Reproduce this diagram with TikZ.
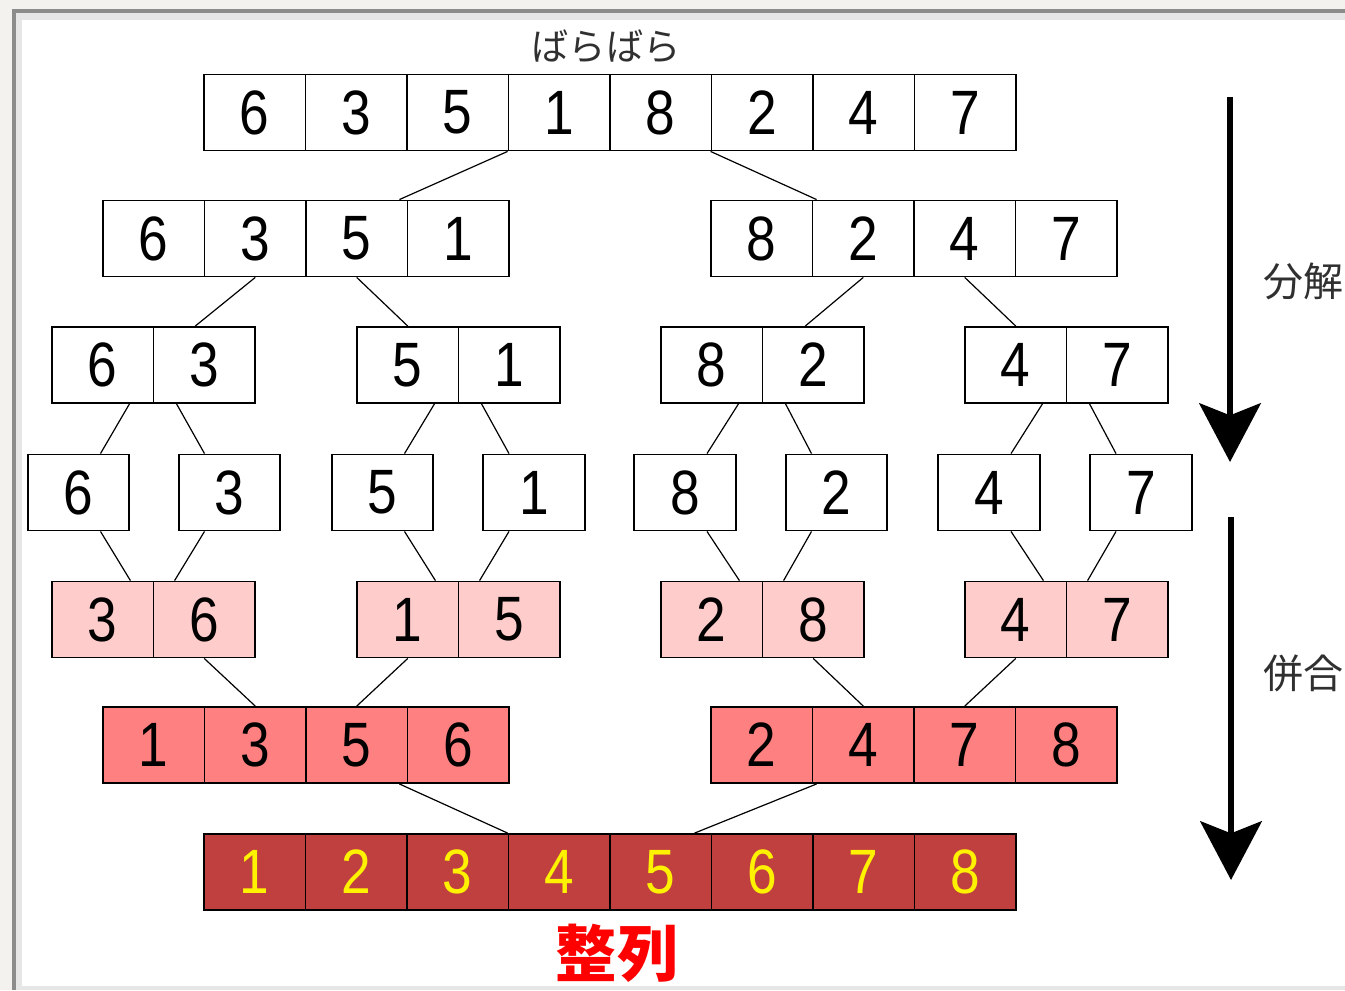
\documentclass[tikz,border=0pt]{standalone}
\usepackage{fontspec}
\usetikzlibrary{arrows.meta, calc}
\setmainfont{Liberation Sans}
\newfontfamily\digitfont[FakeStretch=0.85]{Liberation Sans}
\newfontfamily\jpfont{Noto Sans CJK JP}

\definecolor{framebg}{HTML}{F3F2EF}
\definecolor{frameline}{HTML}{8C8C8C}
\definecolor{frameband}{HTML}{E6E6E6}
\definecolor{cellpink}{HTML}{FFCCCC}
\definecolor{cellsalmon}{HTML}{FF8080}
\definecolor{celldark}{HTML}{C04040}
\definecolor{kanagray}{HTML}{303030}

\tikzset{
  cell/.style={draw, line width=1.4pt, fill=white, minimum width=76.1pt, minimum height=57pt, inner sep=0pt,
    font=\digitfont\fontsize{47}{47}\selectfont},
  pinkcell/.style={cell, fill=cellpink},
  salmoncell/.style={cell, fill=cellsalmon},
  darkcell/.style={cell, fill=celldark, text=yellow},
  link/.style={line width=0.9pt},
  bigarrow/.style={line width=5pt, -{Stealth[length=44pt, width=46pt, inset=9pt]}},
  jplabel/.style={font=\jpfont\fontsize{30}{30}\selectfont, text=kanagray, inner sep=0pt}
}

\begin{document}
\begin{tikzpicture}[x=0.75pt, y=-0.75pt]
        \useasboundingbox (0,0) rectangle (1345,990);
        % Frame
        \fill[framebg] (0,0) rectangle (1345,990);
        \fill[frameline] (12,9) rectangle (1345,990);
        \fill[frameband] (15.5,12.5) rectangle (1345,990);
        \fill[white] (22,19.5) rectangle (1345,985.5);

        % Draw nodes
        \node[cell] (a1) at (254.75,112.5) {6};
        \node[cell] (a2) at (356.25,112.5) {3};
        \node[cell] (a3) at (457.75,112.5) {5};
        \node[cell] (a4) at (559.25,112.5) {1};
        \node[cell] (a5) at (660.75,112.5) {8};
        \node[cell] (a6) at (762.25,112.5) {2};
        \node[cell] (a7) at (863.75,112.5) {4};
        \node[cell] (a8) at (965.25,112.5) {7};

        \node[cell] (b1) at (153.75,238.5) {6};
        \node[cell] (b2) at (255.25,238.5) {3};
        \node[cell] (b3) at (356.75,238.5) {5};
        \node[cell] (b4) at (458.25,238.5) {1};
        \node[cell] (b5) at (761.75,238.5) {8};
        \node[cell] (b6) at (863.25,238.5) {2};
        \node[cell] (b7) at (964.75,238.5) {4};
        \node[cell] (b8) at (1066.25,238.5) {7};

        \node[cell] (c1) at (102.75,365) {6};
        \node[cell] (c2) at (204.25,365) {3};
        \node[cell] (c3) at (407.75,365) {5};
        \node[cell] (c4) at (509.25,365) {1};
        \node[cell] (c5) at (711.75,365) {8};
        \node[cell] (c6) at (813.25,365) {2};
        \node[cell] (c7) at (1015.75,365) {4};
        \node[cell] (c8) at (1117.25,365) {7};

        \node[cell] (d1) at (78.5,492.5) {6};
        \node[cell] (d2) at (229.5,492.5) {3};
        \node[cell] (d3) at (382.5,492.5) {5};
        \node[cell] (d4) at (534,492.5) {1};
        \node[cell] (d5) at (685,492.5) {8};
        \node[cell] (d6) at (836.5,492.5) {2};
        \node[cell] (d7) at (989,492.5) {4};
        \node[cell] (d8) at (1141,492.5) {7};

        \node[pinkcell] (e1) at (102.75,619.5) {3};
        \node[pinkcell] (e2) at (204.25,619.5) {6};
        \node[pinkcell] (e3) at (407.75,619.5) {1};
        \node[pinkcell] (e4) at (509.25,619.5) {5};
        \node[pinkcell] (e5) at (711.75,619.5) {2};
        \node[pinkcell] (e6) at (813.25,619.5) {8};
        \node[pinkcell] (e7) at (1015.75,619.5) {4};
        \node[pinkcell] (e8) at (1117.25,619.5) {7};

        \node[salmoncell] (f1) at (153.75,745) {1};
        \node[salmoncell] (f2) at (255.25,745) {3};
        \node[salmoncell] (f3) at (356.75,745) {5};
        \node[salmoncell] (f4) at (458.25,745) {6};
        \node[salmoncell] (f5) at (761.75,745) {2};
        \node[salmoncell] (f6) at (863.25,745) {4};
        \node[salmoncell] (f7) at (964.75,745) {7};
        \node[salmoncell] (f8) at (1066.25,745) {8};

        \node[darkcell] (g1) at (254.75,872) {1};
        \node[darkcell] (g2) at (356.25,872) {2};
        \node[darkcell] (g3) at (457.75,872) {3};
        \node[darkcell] (g4) at (559.25,872) {4};
        \node[darkcell] (g5) at (660.75,872) {5};
        \node[darkcell] (g6) at (762.25,872) {6};
        \node[darkcell] (g7) at (863.75,872) {7};
        \node[darkcell] (g8) at (965.25,872) {8};

        % Draw connections
        \draw[link] (a4.south west) -- ($(b3.north east)+(-9,0)$);
        \draw[link] (a6.south west) -- ($(b6.north west)+(5,0)$);

        \draw[link] (b2.south) -- ($(c2.north)+(-9,0)$);
        \draw[link] (b3.south) -- (c3.north);
        \draw[link] (b6.south) -- ($(c6.north)+(-8,0)$);
        \draw[link] (b7.south) -- (c7.north);

        \draw[link] ($(c1.south east)+(-25,0)$) -- ($(d1.north)+(22,0)$);
        \draw[link] ($(c2.south west)+(24,0)$) -- ($(d2.north)+(-25,0)$);
        \draw[link] ($(c3.south east)+(-25,0)$) -- ($(d3.north)+(22,0)$);
        \draw[link] ($(c4.south west)+(24,0)$) -- ($(d4.north)+(-25,0)$);
        \draw[link] ($(c5.south east)+(-25,0)$) -- ($(d5.north)+(22,0)$);
        \draw[link] ($(c6.south west)+(24,0)$) -- ($(d6.north)+(-25,0)$);
        \draw[link] ($(c7.south east)+(-25,0)$) -- ($(d7.north)+(22,0)$);
        \draw[link] ($(c8.south west)+(24,0)$) -- ($(d8.north)+(-25,0)$);

        \draw[link] ($(d1.south)+(22,0)$) -- ($(e1.north east)+(-24,0)$);
        \draw[link] ($(d2.south)+(-25,0)$) -- ($(e2.north west)+(22,0)$);
        \draw[link] ($(d3.south)+(22,0)$) -- ($(e3.north east)+(-24,0)$);
        \draw[link] ($(d4.south)+(-25,0)$) -- ($(e4.north west)+(22,0)$);
        \draw[link] ($(d5.south)+(22,0)$) -- ($(e5.north east)+(-24,0)$);
        \draw[link] ($(d6.south)+(-25,0)$) -- ($(e6.north west)+(22,0)$);
        \draw[link] ($(d7.south)+(22,0)$) -- ($(e7.north east)+(-24,0)$);
        \draw[link] ($(d8.south)+(-25,0)$) -- ($(e8.north west)+(22,0)$);

        \draw[link] (e2.south) -- (f2.north);
        \draw[link] (e3.south) -- (f3.north);
        \draw[link] (e6.south) -- (f6.north);
        \draw[link] (e7.south) -- (f7.north);

        \draw[link] ($(f3.south east)+(-9,0)$) -- (g4.north west);
        \draw[link] ($(f6.south west)+(5,0)$) -- ($(g6.north west)+(-16,0)$);

        % Arrows
        \coordinate (splittop) at (1230,97);
        \coordinate (splittip) at (1230,462);
        \coordinate (mergetop) at (1231,517);
        \coordinate (mergetip) at (1231,880);
        \draw[bigarrow] (splittop) -- (splittip);
        \draw[bigarrow] (mergetop) -- (mergetip);

        % Labels
        \node[jplabel, font=\jpfont\fontsize{28}{28}\selectfont] (barabara) at (606,46) {ばらばら};
        \node[jplabel, anchor=west] (bunkai) at (1263,281) {分解};
        \node[jplabel, anchor=west] (heigou) at (1263,673) {併合};
        \node[jplabel, text=red, font=\jpfont\bfseries\fontsize{46}{46}\selectfont] (seiretsu) at (617,953) {整列};
    \end{tikzpicture}
\end{document}
